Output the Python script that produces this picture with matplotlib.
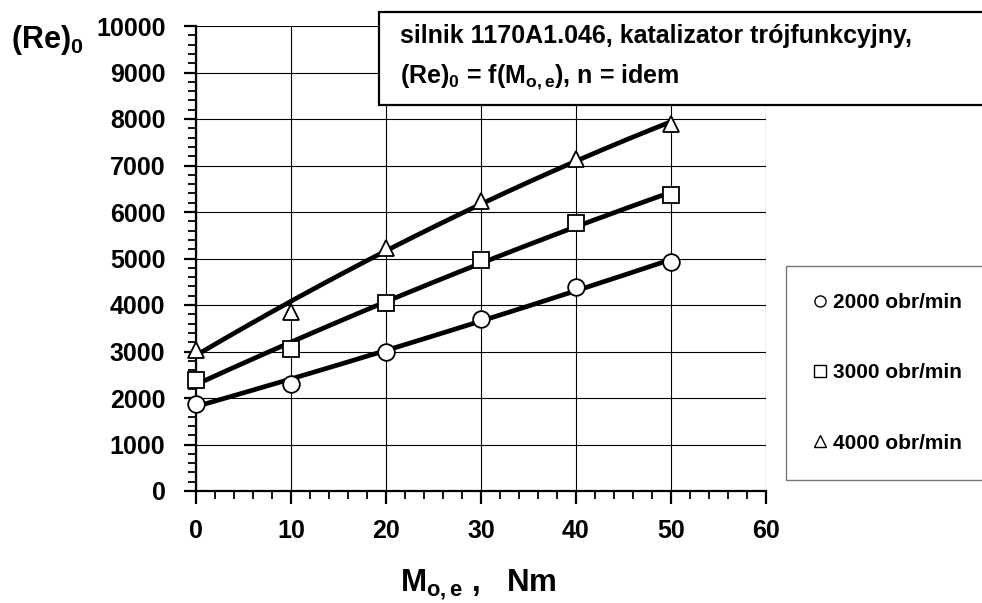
import numpy as np
import matplotlib
matplotlib.use('Agg')
import matplotlib.pyplot as plt
from matplotlib.lines import Line2D
from matplotlib.patches import Rectangle

# Data
moment = [0, 10, 20, 30, 40, 50]
re_2000 = [1880, 2310, 3000, 3690, 4390, 4920]
re_3000 = [2380, 3050, 4050, 4970, 5760, 6360]
re_4000 = [3030, 3850, 5230, 6230, 7140, 7890]

series = [
    (re_2000, 'o', '2000 obr/min'),
    (re_3000, 's', '3000 obr/min'),
    (re_4000, '^', '4000 obr/min'),
]

plt.rcParams['font.family'] = ['Liberation Sans', 'DejaVu Sans']
plt.rcParams['font.weight'] = 'bold'
plt.rcParams['mathtext.fontset'] = 'custom'
plt.rcParams['mathtext.rm'] = 'Liberation Sans:bold'
plt.rcParams['mathtext.it'] = 'Liberation Sans:bold'
plt.rcParams['mathtext.bf'] = 'Liberation Sans:bold'
plt.rcParams['mathtext.default'] = 'rm'

fig = plt.figure(figsize=(9.82, 6.03), dpi=100)
ax = fig.add_axes([196 / 982, 1 - 491 / 603, 570 / 982, 465 / 603])

# Excel-like 2nd order trendlines
xs = np.linspace(0, 50, 200)
handles = []
for vals, mk, lab in series:
    coef = np.polyfit(moment, vals, 2)
    ax.plot(xs, np.polyval(coef, xs), color='black', lw=3.4, zorder=3)
    ax.plot(moment, vals, linestyle='none', marker=mk, ms=11 if mk != 'o' else 12,
            mfc='white', mec='black', mew=1.3, zorder=4, clip_on=False)
    handles.append(Line2D([], [], linestyle='none', marker=mk, ms=8,
                          mfc='white', mec='black', mew=1.0, label=lab))

ax.set_xlim(0, 60)
ax.set_ylim(0, 10000)
ax.set_xticks(range(0, 61, 10))
ax.set_xticks(range(0, 61, 2), minor=True)
ax.set_yticks(range(0, 10001, 1000))
ax.set_yticks(range(0, 10001, 200), minor=True)
ax.grid(True, which='major', color='black', lw=0.8)
ax.set_axisbelow(True)

for s in ['top', 'right']:
    ax.spines[s].set_visible(False)
for s in ['left', 'bottom']:
    ax.spines[s].set_linewidth(1.6)

ax.tick_params(which='major', direction='out', length=9, width=1.6,
               labelsize=18, pad=11)
ax.tick_params(which='minor', direction='out', length=6, width=1.3)
ax.tick_params(axis='y', which='major', pad=13)
for lbl in ax.get_xticklabels() + ax.get_yticklabels():
    lbl.set_fontweight('bold')

# axis titles
fig.text(478 / 982, 1 - 591 / 603, r'M$_{o,e}$ ,   Nm', fontsize=22.5,
         fontweight='bold', ha='center', va='baseline')
fig.text(11 / 982, 1 - 40 / 603, r'(Re)$_0$', fontsize=22, fontweight='bold',
         va='center', ha='left')

# title box
fig.patches.append(Rectangle((379 / 982, 1 - 105 / 603), 0.7, 93 / 603,
                             transform=fig.transFigure, facecolor='white',
                             edgecolor='black', lw=1.6, zorder=5))
fig.text(400 / 982, 1 - 36 / 603, 'silnik 1170A1.046, katalizator trójfunkcyjny,',
         fontsize=18, fontweight='bold', va='center', ha='left', zorder=6)
fig.text(400 / 982, 1 - 77 / 603, r'(Re)$_0$ = f(M$_{o,e}$), n = idem',
         fontsize=18, fontweight='bold', va='center', ha='left', zorder=6)

# legend box
leg = ax.legend(handles=handles, loc='center left', mode='expand',
                bbox_to_anchor=(786 / 982, 1 - 481 / 603, 0.3, 216 / 603),
                bbox_transform=fig.transFigure, borderaxespad=0,
                fontsize=15, labelspacing=2.45, borderpad=1.3,
                handlelength=0.7, handletextpad=0.25, fancybox=False)
leg.get_frame().set_edgecolor('#555555')
leg.get_frame().set_linewidth(1.0)
leg.set_zorder(6)
for t in leg.get_texts():
    t.set_fontweight('bold')

fig.savefig('out.png', dpi=100)
